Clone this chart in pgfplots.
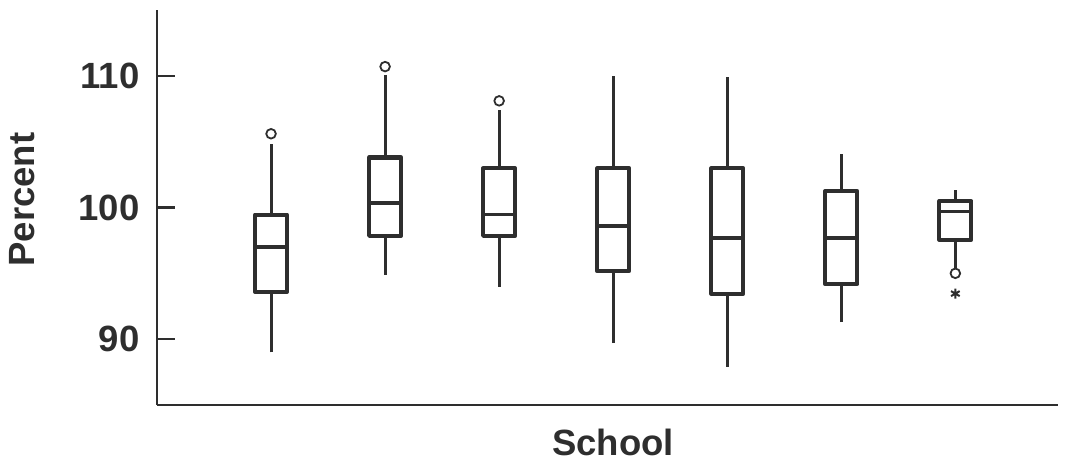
\documentclass[border=0pt]{standalone}
\usepackage{pgfplots}
\pgfplotsset{compat=1.18}
\usepackage{pgfplotstable}
\usepackage{fontspec}
\setmainfont{Liberation Sans}

\colorlet{ink}{black!82}

% five-number summaries, one row per school
\pgfplotstableread{
pos  lw     q1     med     q3      uw
1    89.0   93.6   97.0    99.46   104.8
2    94.9   97.85  100.36  103.8   110.06
3    93.97  97.85  99.46   102.97  107.4
4    89.7   95.17  98.6    102.97  110.0
5    87.9   93.46  97.7    102.97  109.9
6    91.3   94.18  97.7    101.25  104.06
7    95.4   97.55  99.7    100.48  101.3
}\schools

% outside values
\pgfplotstableread{
x  y
1  105.6
2  110.7
3  108.1
7  95.0
}\outliers
\pgfplotstableread{
x  y
7  93.46
}\extremes

\newcommand\getcell[3]{\pgfplotstablegetelem{#1}{#2}\of\schools\let#3\pgfplotsretval}

\begin{document}
\begin{tikzpicture}
\useasboundingbox (-157pt,-67pt) rectangle (912pt,405pt);
\begin{axis}[
  at={(0pt,0pt)}, anchor=south west,
  scale only axis,
  width=901pt, height=395pt,
  xmin=0, xmax=7.9,
  ymin=85, ymax=115,
  axis x line*=bottom, axis y line*=left,
  axis line style={line width=2.8pt, ink},
  xtick=\empty,
  ytick={90,100,110},
  tick align=inside,
  major tick length=18pt,
  every tick/.style={line width=2.2pt, ink},
  /pgf/number format/assume math mode=true,
  yticklabel style={font=\bfseries\fontsize{36.5}{40}\selectfont, text=ink, anchor=east, xshift=-14pt},
  every axis y label/.style={at={(axis description cs:-0.1498,0.52)}, anchor=center, rotate=90,
    font=\bfseries\fontsize{36.5}{40}\selectfont, text=ink},
  every axis x label/.style={at={(axis description cs:0.506,0)}, anchor=base, yshift=-50pt,
    font=\bfseries\fontsize{36.5}{40}\selectfont, text=ink},
  ylabel={Percent},
  xlabel={School},
  clip=false,
  whisker/.style={ink, line width=3pt, mark=none},
  box/.style={ink, line width=4.2pt, line join=round, mark=none},
  median/.style={ink, line width=3.6pt, mark=none},
]
\pgfplotsinvokeforeach{0,...,6}{
  \getcell{#1}{pos}\p
  \getcell{#1}{lw}\lw
  \getcell{#1}{q1}\qa
  \getcell{#1}{med}\md
  \getcell{#1}{q3}\qc
  \getcell{#1}{uw}\uw
  \pgfmathsetmacro\xl{\p-0.14}
  \pgfmathsetmacro\xr{\p+0.14}
  \addplot[whisker] coordinates {(\p,\lw) (\p,\qa)};
  \addplot[whisker] coordinates {(\p,\qc) (\p,\uw)};
  \addplot[box] coordinates {(\xl,\qa) (\xr,\qa) (\xr,\qc) (\xl,\qc)} -- cycle;
  \addplot[median] coordinates {(\xl,\md) (\xr,\md)};
}
\addplot[only marks, ink, mark=o, mark size=4.8pt, mark options={line width=1.8pt, fill=white}]
  table {\outliers};
\addplot[only marks, ink, mark=asterisk, mark size=5pt, mark options={line width=2pt}]
  table {\extremes};
\end{axis}
\end{tikzpicture}
\end{document}
